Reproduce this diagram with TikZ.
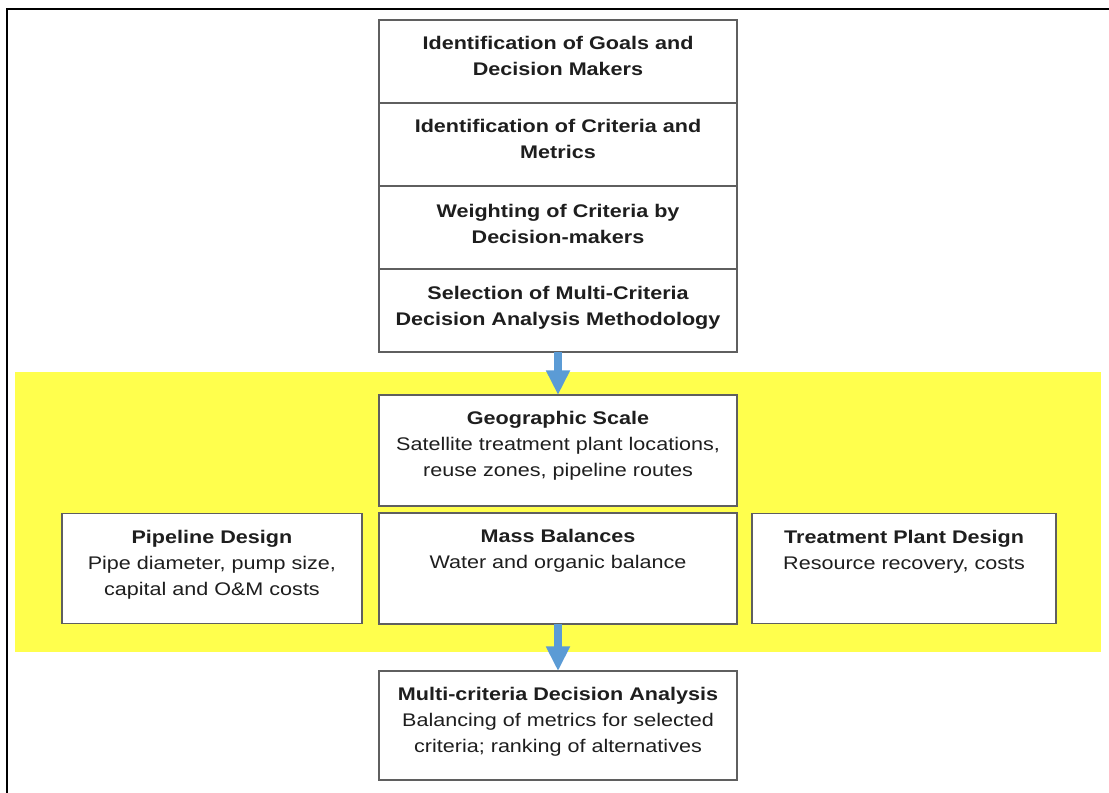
\documentclass[tikz,border=0pt]{standalone}
\usepackage{fontspec}
\setmainfont{Liberation Sans}[FakeStretch=1.18]
\definecolor{bandYellow}{RGB}{255,255,77}
\definecolor{flowBlue}{RGB}{91,155,213}
\definecolor{boxGray}{RGB}{95,95,95}
\definecolor{textDark}{RGB}{30,30,30}
\usetikzlibrary{positioning,arrows.meta}

\begin{document}
\begin{tikzpicture}[x=0.025cm, y=-0.025cm,
    procbox/.style={draw=boxGray, line width=1.3pt, fill=white, outer sep=0pt,
        minimum width=8.95cm},
    boxtext/.style={inner sep=0pt, align=center, text=textDark,
        font=\fontsize{13}{18.5}\selectfont},
    flowarrow/.style={draw=flowBlue, line width=5.5pt,
        -{Triangle[width=16pt, length=17.5pt]}}]
    \useasboundingbox (0,0) rectangle (1109,793);

    % Outer frame (cut off at right and bottom)
    \draw[line width=2pt] (7,810) -- (7,9) -- (1120,9);

    % Yellow band behind the design modules
    \fill[bandYellow] (15,372) rectangle (1101,652);

    % Decision framing stack (top)
    \node[procbox, minimum height=2.075cm, anchor=north] (goals) at (558,20) {};
    \node[procbox, minimum height=2.075cm, below=0pt of goals] (criteria) {};
    \node[procbox, minimum height=2.075cm, below=0pt of criteria] (weighting) {};
    \node[procbox, minimum height=2.075cm, below=0pt of weighting] (selection) {};

    \node[boxtext, font=\fontsize{13}{18.5}\selectfont\bfseries, below=11.4pt of goals.north] (goalsTxt)
        {Identification of Goals and\\Decision Makers};
    \node[boxtext, font=\fontsize{13}{18.5}\selectfont\bfseries, below=11.4pt of criteria.north] (criteriaTxt)
        {Identification of Criteria and\\Metrics};
    \node[boxtext, font=\fontsize{13}{18.5}\selectfont\bfseries, below=12.5pt of weighting.north] (weightingTxt)
        {Weighting of Criteria by\\Decision-makers};
    \node[boxtext, font=\fontsize{13}{18.5}\selectfont\bfseries, below=12pt of selection.north] (selectionTxt)
        {Selection of Multi-Criteria\\Decision Analysis Methodology};

    % Design modules (yellow band)
    \node[procbox, minimum height=2.775cm, anchor=north] (geo) at (558,395) {};
    \node[procbox, minimum height=2.775cm, below=0.175cm of geo] (mass) {};
    \node[procbox, minimum height=2.75cm, minimum width=7.5cm, left=0.425cm of mass] (pipe) {};
    \node[procbox, minimum height=2.75cm, minimum width=7.6cm, right=0.375cm of mass] (plant) {};

    \node[boxtext, below=11.4pt of geo.north] (geoTxt)
        {\textbf{Geographic Scale}\\Satellite treatment plant locations,\\reuse zones, pipeline routes};
    \node[boxtext, below=11.4pt of mass.north] (massTxt)
        {\textbf{Mass Balances}\\Water and organic balance};
    \node[boxtext, below=11.4pt of pipe.north] (pipeTxt)
        {\textbf{Pipeline Design}\\Pipe diameter, pump size,\\capital and O\&M costs};
    \node[boxtext, below=11.4pt of plant.north] (plantTxt)
        {\textbf{Treatment Plant Design}\\Resource recovery, costs};

    % Final analysis (bottom)
    \node[procbox, minimum height=2.725cm, below=1.175cm of mass] (mcda) {};
    \node[boxtext, below=11.4pt of mcda.north] (mcdaTxt)
        {\textbf{Multi-criteria Decision Analysis}\\Balancing of metrics for selected\\criteria; ranking of alternatives};

    % Flow arrows
    \draw[flowarrow] (selection) -- (geo);
    \draw[flowarrow] (mass) -- (mcda);
\end{tikzpicture}
\end{document}
